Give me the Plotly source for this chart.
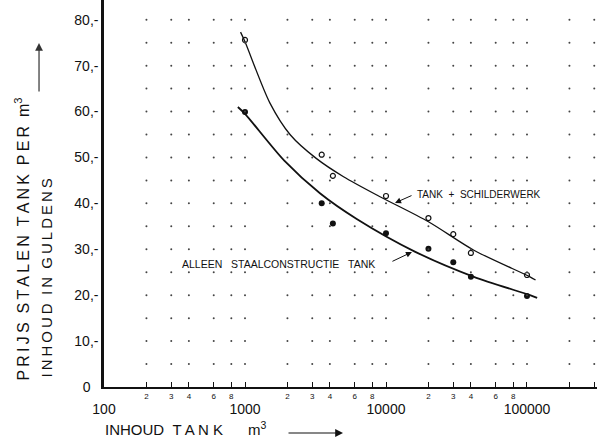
import plotly.graph_objects as go

# ---- data ----
volume_pts = [1000, 3500, 4200, 10000, 20000, 30000, 40000, 100000]
price_with_paint = [75.6, 50.6, 46.0, 41.6, 36.8, 33.3, 29.2, 24.4]
price_steel_only = [59.9, 40.0, 35.6, 33.5, 30.1, 27.2, 24.0, 19.8]

curve_paint_x = [930, 1000, 1500, 2100, 3200, 5000, 9000, 20000, 42000, 105000, 115000]
curve_paint_y = [77.3, 75.2, 61.9, 54.9, 49.8, 45.8, 41.5, 36.0, 29.8, 24.0, 23.3]
curve_steel_x = [890, 1000, 1900, 3400, 6200, 16000, 42000, 105000, 118000]
curve_steel_y = [61.0, 59.5, 49.3, 42.2, 36.6, 29.5, 24.0, 20.0, 19.4]

decades = [100, 1000, 10000, 100000]
minor_mult = [2, 3, 4, 6, 8]
minor_labels = ["2", "3", "4", "6", "8"]
major_labels = ["100", "1000", "10000", "100000"]
grid_mult = [2, 3, 4, 6, 8, 10]
y_ticks = [0, 10, 20, 30, 40, 50, 60, 70, 80]
y_ticklabels = ["0\u00a0\u00a0", "10,-", "20,-", "30,-", "40,-", "50,-", "60,-", "70,-", "80,-"]
grid_y = [5 * i for i in range(1, 17)]

XMAX = 3.1e5
FONT = "Liberation Sans, Arial, sans-serif"
INK = "#111111"

minor_vals, minor_text = [], []
for d in decades:
    for m, t in zip(minor_mult, minor_labels):
        minor_vals.append(m * d)
        minor_text.append(t if m * d < 100000 else "")
minor_vals.append(200000)
minor_text.append("")

gx, gy = [], []
for d in decades:
    for m in grid_mult:
        if m * d <= XMAX:
            for yv in grid_y:
                gx.append(m * d)
                gy.append(yv)

fig = go.Figure()
fig.add_trace(go.Scatter(x=gx, y=gy, mode="markers", xaxis="x2",
                         marker=dict(size=2, color="#444444"), hoverinfo="skip", showlegend=False))
fig.add_trace(go.Scatter(x=curve_paint_x, y=curve_paint_y, mode="lines",
                         line=dict(color=INK, width=1.3, shape="spline", smoothing=0.8), showlegend=False))
fig.add_trace(go.Scatter(x=curve_steel_x, y=curve_steel_y, mode="lines",
                         line=dict(color=INK, width=1.8, shape="spline", smoothing=0.8), showlegend=False))
fig.add_trace(go.Scatter(x=volume_pts, y=price_with_paint, mode="markers",
                         marker=dict(symbol="circle-open", size=5, color=INK, line=dict(width=1.2)),
                         showlegend=False))
fig.add_trace(go.Scatter(x=volume_pts, y=price_steel_only, mode="markers",
                         marker=dict(symbol="circle", size=6, color=INK), showlegend=False))

fig.update_layout(
    width=608, height=444,
    margin=dict(l=104, r=11, t=0, b=57, autoexpand=False),
    paper_bgcolor="white", plot_bgcolor="white",
    font=dict(family=FONT, color=INK),
    xaxis=dict(type="log", range=[2, 5.4965], showgrid=False, zeroline=False, automargin=False,
               showline=True, linewidth=2, linecolor=INK,
               tickvals=minor_vals, ticktext=minor_text, ticks="inside", ticklen=5,
               tickcolor=INK, tickwidth=1, tickfont=dict(size=8, color=INK),
               ticklabelstandoff=0),
    xaxis2=dict(type="log", range=[2, 5.4965], overlaying="x", anchor="y", side="bottom",
                showgrid=False, zeroline=False, showline=False, automargin=False,
                tickvals=decades, ticktext=major_labels, ticks="inside", ticklen=5,
                tickcolor=INK, tickfont=dict(size=14, color=INK), ticklabelstandoff=12),
    yaxis=dict(range=[0, 84.3], showgrid=False, zeroline=False, automargin=False,
               showline=True, linewidth=2.5, linecolor=INK,
               tickvals=y_ticks, ticktext=y_ticklabels, ticks="",
               tickfont=dict(size=14, color=INK)),
)

ts = "\u2009"
def spaced(s):
    return ts.join(list(s)).replace(ts + " " + ts, "\u00a0\u00a0")

anns = [
    dict(text=spaced("PRIJS STALEN TANK PER m") + "<sup>3</sup>", xref="paper", yref="paper",
         x=-0.1663, y=0.0103, xanchor="center", yanchor="bottom", textangle=-90,
         showarrow=False, font=dict(size=16)),
    dict(text=spaced("INHOUD IN GULDENS"), xref="paper", yref="paper",
         x=-0.1156, y=0.018, xanchor="center", yanchor="bottom", textangle=-90,
         showarrow=False, font=dict(size=15)),
    dict(text="", xref="paper", yref="paper", x=-0.1318, y=0.889, ax=0, ay=50,
         showarrow=True, arrowhead=2, arrowsize=1.3, arrowwidth=1.2, arrowcolor="#333"),
    dict(text="INHOUD\u00a0\u00a0T A N K\u00a0\u00a0\u00a0\u00a0\u00a0\u00a0m<sup>3</sup>",
         xref="paper", yref="paper", x=-0.002, y=-0.106, xanchor="left", yanchor="middle",
         showarrow=False, font=dict(size=15)),
    dict(text="", xref="paper", yref="paper", x=0.4848, y=-0.1189, ax=-56, ay=0,
         showarrow=True, arrowhead=2, arrowsize=1.3, arrowwidth=1.2, arrowcolor=INK),
    dict(text="TANK\u00a0\u00a0+\u00a0\u00a0SCHILDERWERK", x=4.206, y=42.0, xref="x", yref="y",
         xanchor="left", yanchor="middle", showarrow=False, font=dict(size=10)),
    dict(text="ALLEEN\u00a0\u00a0\u00a0STAALCONSTRUCTIE\u00a0\u00a0\u00a0TANK", x=2.539, y=26.8,
         xref="x", yref="y", xanchor="left", yanchor="middle", showarrow=False,
         font=dict(size=10.5)),
    dict(text="", x=4.064, y=40.1, xref="x", yref="y", ax=18, ay=-8, showarrow=True,
         arrowhead=2, arrowsize=1.2, arrowwidth=1, arrowcolor=INK),
    dict(text="", x=4.184, y=29.4, xref="x", yref="y", ax=-21, ay=10, showarrow=True,
         arrowhead=2, arrowsize=1.2, arrowwidth=1, arrowcolor=INK),
]
fig.update_layout(annotations=anns)

fig.write_html("out.html", config={"displayModeBar": False},
               post_script="document.body.style.margin='0';document.body.style.overflow='hidden';")
